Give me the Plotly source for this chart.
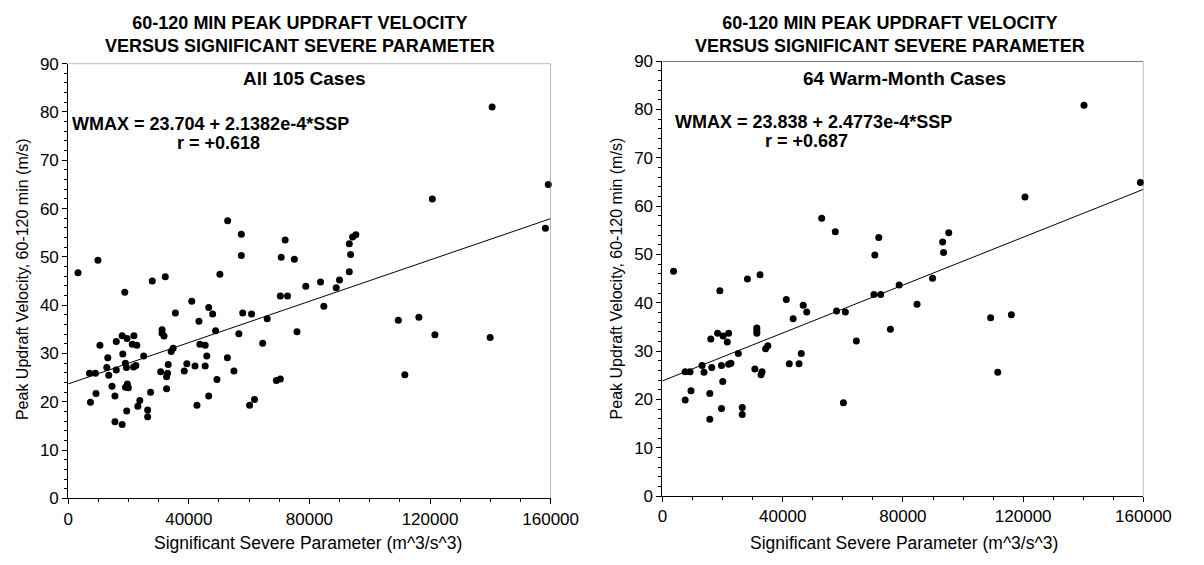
import plotly.graph_objects as go

# ---------------- data ----------------
ssp_all = [3250, 27870, 32200, 50300, 78800, 18760, 40980, 70350, 72740, 46600,
           35550, 47900, 57880, 60800, 43360, 66000, 48880, 56590, 75880, 31120,
           31120, 31770, 15940, 17890, 21790, 19510, 21250, 22760, 10510, 43680,
           45420, 64500, 34800, 34150, 18100, 25040, 13120, 45960, 52790, 18970,
           12790, 15940, 19300, 22440, 21680, 33170, 39350, 42050, 45420, 7050,
           9000, 13440, 30680, 32950, 32630, 38480, 54960, 49320, 69050, 70350,
           14530, 19620, 19950, 19000, 32630, 9210, 27320, 15500, 46600, 7370,
           23740, 23090, 61790, 60160, 42700, 19400, 26340, 26340, 15500, 17890,
           52880, 57420, 71950, 57420, 70650, 75000, 9860,
           140590, 159240, 120760, 158270, 95390, 94310, 93230, 93660, 93230, 89980,
           88890, 83680, 84780, 109490, 116310, 121620, 139940, 111650]
wmax_all = [46.7, 45.0, 45.9, 46.4, 43.9, 42.7, 40.8, 41.9, 41.9, 39.5,
            38.4, 38.2, 38.4, 38.2, 36.7, 37.2, 34.7, 34.1, 34.5, 34.9,
            34.2, 33.6, 32.5, 33.7, 33.7, 33.1, 31.9, 31.7, 31.7, 31.9,
            31.7, 32.1, 31.1, 30.4, 29.9, 29.5, 29.1, 29.5, 29.1, 28.0,
            27.1, 26.6, 27.1, 27.5, 27.2, 27.7, 27.9, 27.4, 27.4, 25.9,
            25.9, 25.5, 26.2, 25.9, 25.2, 26.4, 26.4, 24.6, 24.4, 24.7,
            23.2, 23.7, 22.9, 23.0, 22.7, 21.7, 22.0, 21.2, 21.2, 19.9,
            20.3, 19.1, 20.5, 19.3, 19.3, 18.1, 18.3, 16.9, 15.9, 15.3,
            57.5, 54.7, 53.5, 50.3, 49.9, 49.5, 49.3,
            81.0, 65.0, 62.0, 55.9, 54.6, 54.1, 52.7, 50.5, 46.9, 45.2,
            43.6, 44.8, 39.8, 36.9, 37.5, 33.9, 33.3, 25.6]

ssp_warm = [3670, 28260, 32470, 19090, 41200, 46820, 48000, 70330, 72600, 78740,
            57920, 60840, 43470, 75830, 31390, 31390, 31390, 18340, 20170, 22000,
            16070, 21570, 64500, 35050, 34300, 25240, 46170, 13170, 16400, 19630,
            22000, 22760, 42180, 45420, 7550, 9170, 13810, 30740, 33120, 32790,
            20060, 9490, 15750, 7550, 60190, 19630, 26540, 26540, 15750,
            52970, 57500, 71950, 70650,
            140230, 159000, 120600, 95240, 93200, 93520, 89860, 84680, 109160, 116070,
            111540]
wmax_warm = [46.5, 44.9, 45.8, 42.5, 40.7, 39.5, 38.1, 41.7, 41.7, 43.7,
             38.3, 38.1, 36.7, 34.5, 34.8, 34.2, 33.7, 33.7, 33.1, 33.7,
             32.5, 31.9, 32.1, 31.1, 30.5, 29.5, 29.5, 27.0, 26.6, 27.0,
             27.3, 27.5, 27.4, 27.4, 25.7, 25.7, 25.6, 26.3, 25.7, 25.1,
             23.7, 21.8, 21.2, 19.9, 19.3, 18.1, 18.3, 16.9, 15.9,
             57.5, 54.7, 53.5, 49.9,
             80.9, 64.9, 61.9, 54.5, 52.6, 50.4, 45.1, 39.7, 36.9, 37.5,
             25.6]

fit_all = (23.704, 2.1382e-4)
fit_warm = (23.838, 2.4773e-4)
x_range = [0, 160000]
y_range = [0, 90]
x_ticks = [0, 40000, 80000, 120000, 160000]
y_ticks = [0, 10, 20, 30, 40, 50, 60, 70, 80, 90]

title1 = "60-120 MIN PEAK UPDRAFT VELOCITY"
title2 = "VERSUS SIGNIFICANT SEVERE PARAMETER"
x_title = "Significant Severe Parameter (m^3/s^3)"
y_title = "Peak Updraft Velocity, 60-120 min (m/s)"
panel_labels = ["All 105 Cases", "64 Warm-Month Cases"]
eq_labels = ["WMAX = 23.704 + 2.1382e-4*SSP", "WMAX = 23.838 + 2.4773e-4*SSP"]
r_labels = ["r = +0.618", "r = +0.687"]

# ---------------- figure ----------------
W, H = 1204, 565
FONT = "Arial, 'Liberation Sans', Helvetica, sans-serif"


def px_x(p):
    return p / W


def px_y(p):
    return 1 - p / H


fig = go.Figure()

for i, (xs, ys, fit) in enumerate([(ssp_all, wmax_all, fit_all),
                                   (ssp_warm, wmax_warm, fit_warm)]):
    xa = "x" if i == 0 else "x2"
    ya = "y" if i == 0 else "y2"
    fig.add_trace(go.Scatter(x=xs, y=ys, mode="markers", xaxis=xa, yaxis=ya,
                             marker=dict(color="black", size=7, line=dict(width=0)),
                             cliponaxis=False, hoverinfo="x+y"))
    fig.add_trace(go.Scatter(x=x_range, y=[fit[0] + fit[1] * v for v in x_range],
                             mode="lines", xaxis=xa, yaxis=ya,
                             line=dict(color="black", width=1), hoverinfo="skip"))

axis_common = dict(showgrid=False, zeroline=False, showline=True, linecolor="black",
                   linewidth=1, ticks="outside", ticklen=5, tickcolor="black",
                   tickfont=dict(family=FONT, size=17, color="black"), mirror=False)

# plot areas in pixels
areas = [(65, 561, 56.5, 506.5), (676, 1170.5, 54, 504)]

layout_axes = {}
for i, (x0, x1, y0, y1) in enumerate(areas):
    sx = "" if i == 0 else "2"
    layout_axes["xaxis" + sx] = dict(axis_common, domain=[px_x(x0), px_x(x1)],
                                     range=x_range, tickvals=x_ticks, tickformat="d",
                                     anchor="y" + sx,
                                     minor=dict(ticks="outside", ticklen=3, dtick=10000,
                                                tickcolor="black", showgrid=False))
    layout_axes["yaxis" + sx] = dict(axis_common, domain=[px_y(y1), px_y(y0)],
                                     range=y_range, tickvals=y_ticks,
                                     anchor="x" + sx,
                                     minor=dict(ticks="outside", ticklen=3, dtick=2,
                                                tickcolor="black", showgrid=False))

fig.update_layout(width=W, height=H, margin=dict(l=0, r=0, t=0, b=0),
                  paper_bgcolor="white", plot_bgcolor="white", showlegend=False,
                  font=dict(family=FONT, color="black"), **layout_axes)

# frame top/right
shapes = []
frame_colors = [("#7f7f7f", "#7f7f7f"), ("black", "#7f7f7f")]
for i in range(2):
    sx = "" if i == 0 else "2"
    top_c, right_c = frame_colors[i]
    shapes.append(dict(type="line", xref="x" + sx, yref="y" + sx, x0=x_range[0], x1=x_range[1],
                       y0=y_range[1], y1=y_range[1], line=dict(color=top_c, width=1)))
    shapes.append(dict(type="line", xref="x" + sx, yref="y" + sx, x0=x_range[1], x1=x_range[1],
                       y0=y_range[0], y1=y_range[1], line=dict(color=right_c, width=1)))
fig.update_layout(shapes=shapes)

ann = []
title_centers = [(303, 26), (910, 26)]
for i in range(2):
    tx, ty = title_centers[i]
    ann.append(dict(text="<b>%s</b><br><b>%s</b>" % (title1, title2),
                    x=px_x(tx), y=px_y(ty), xref="paper", yref="paper",
                    xanchor="center", yanchor="middle", align="center", showarrow=False,
                    font=dict(family=FONT, size=18, color="black")))

xt_centers = [(312, 553), (924, 553)]
yt_centers = [(18, 280), (629, 279)]
for i in range(2):
    ann.append(dict(text=x_title, x=px_x(xt_centers[i][0]), y=px_y(xt_centers[i][1]),
                    xref="paper", yref="paper", xanchor="center", yanchor="middle",
                    showarrow=False, font=dict(family=FONT, size=17.5, color="black")))
    ann.append(dict(text=y_title, x=px_x(yt_centers[i][0]), y=px_y(yt_centers[i][1]),
                    xref="paper", yref="paper", xanchor="center", yanchor="middle",
                    textangle=-90, showarrow=False,
                    font=dict(family=FONT, size=16, color="black")))

# in-plot labels (pixel centers)
inplot = [
    [(panel_labels[0], 307.5, 72, 19), (eq_labels[0], 211.5, 119, 18), (r_labels[0], 220, 139, 18)],
    [(panel_labels[1], 924.5, 72, 19), (eq_labels[1], 831, 117, 18), (r_labels[1], 824, 137, 18)],
]
for i in range(2):
    for txt, cx, cy, fs in inplot[i]:
        ann.append(dict(text="<b>%s</b>" % txt, x=px_x(cx), y=px_y(cy), xref="paper", yref="paper",
                        xanchor="center", yanchor="middle", showarrow=False,
                        font=dict(family=FONT, size=fs, color="black")))

fig.update_layout(annotations=ann)

fig.write_html("out.html")
